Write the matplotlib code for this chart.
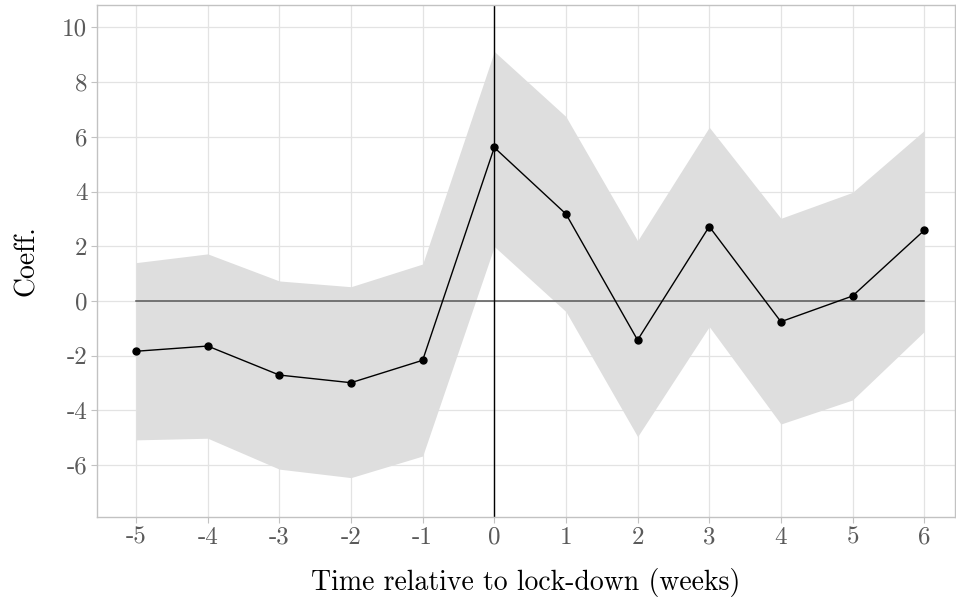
import matplotlib
matplotlib.use("Agg")
import matplotlib.pyplot as plt

# event-study estimates
weeks = [-5, -4, -3, -2, -1, 0, 1, 2, 3, 4, 5, 6]
coef = [-1.84, -1.65, -2.71, -2.99, -2.17, 5.61, 3.18, -1.43, 2.72, -0.76, 0.18, 2.58]
ci_hi = [1.40, 1.72, 0.73, 0.52, 1.35, 9.12, 6.74, 2.20, 6.35, 3.02, 3.97, 6.23]
ci_lo = [-5.08, -5.02, -6.15, -6.46, -5.67, 1.99, -0.39, -4.96, -0.94, -4.50, -3.62, -1.12]
yticks = [-6, -4, -2, 0, 2, 4, 6, 8, 10]

plt.rcParams['font.family'] = ['cmr10', 'DejaVu Serif']
plt.rcParams['mathtext.fontset'] = 'cm'
plt.rcParams['axes.unicode_minus'] = False

fig = plt.figure(figsize=(9.56, 6.0), dpi=100)
ax = fig.add_axes([97 / 956, 1 - 517 / 600, (955 - 97) / 956, (517 - 5) / 600])

ax.fill_between(weeks, ci_lo, ci_hi, color='#dedede', lw=0, zorder=1)
ax.plot([weeks[0], weeks[-1]], [0, 0], color='#555555', lw=1.1, zorder=2)
ax.axvline(0, color='black', lw=1.0, zorder=2)
ax.plot(weeks, coef, color='black', lw=1.0, marker='o', ms=5, zorder=3)

ax.set_xlim(-5.545, 6.43)
ax.set_ylim(-7.9, 10.82)
ax.set_xticks(weeks)
ax.set_yticks(yticks)

ax.grid(True, color='#e3e3e3', lw=0.9, zorder=0)
ax.set_axisbelow(True)
for s in ax.spines.values():
    s.set_color('#c2c2c2')
    s.set_linewidth(1.0)
ax.tick_params(colors='#c2c2c2', labelcolor='#5a5a5a', labelsize=18, length=4, width=0.8, pad=3)

ax.set_xlabel('Time relative to lock-down (weeks)', fontsize=20, labelpad=14)
ax.set_ylabel('Coeff.', fontsize=20, labelpad=16)

fig.savefig('out.png', dpi=100)
